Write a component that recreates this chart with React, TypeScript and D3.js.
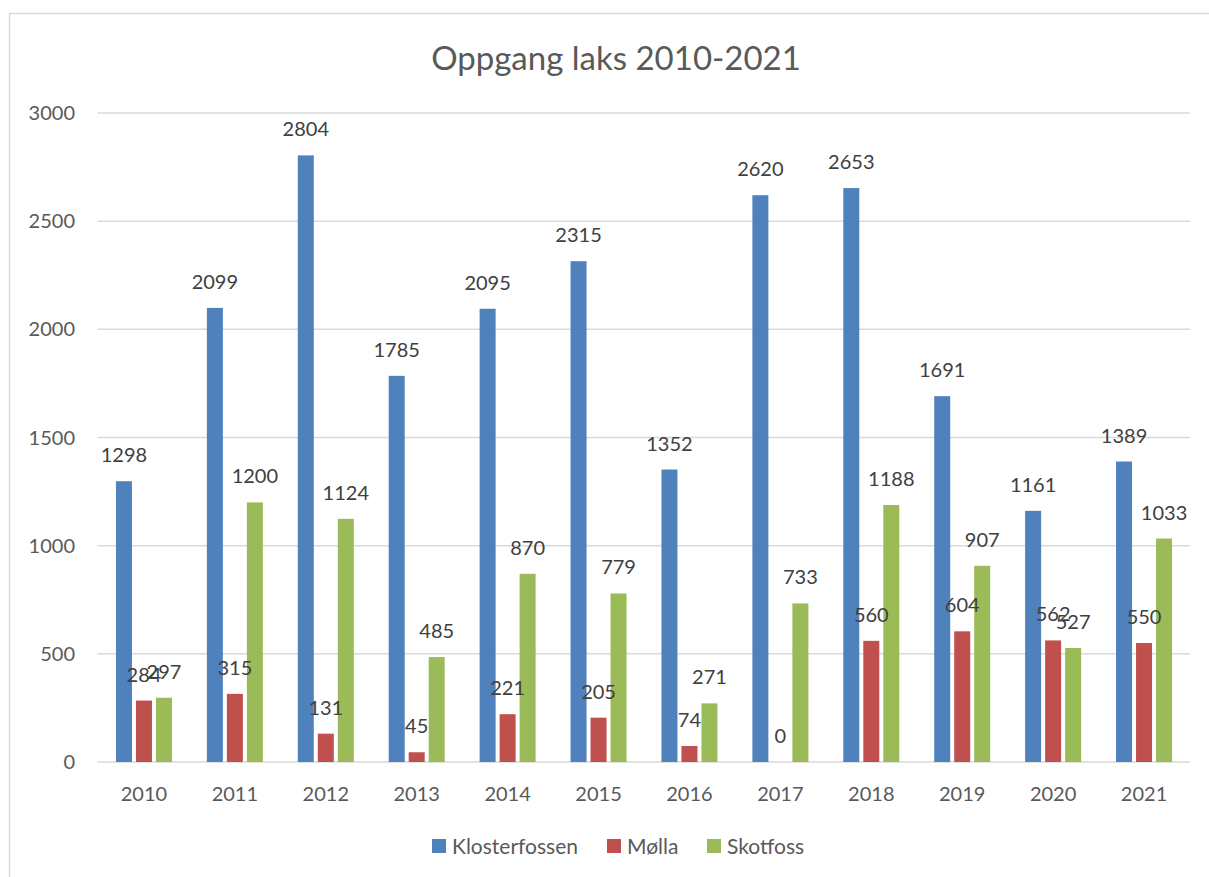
import { useEffect, useRef } from "react"
import * as d3 from "d3"

const years = ["2010", "2011", "2012", "2013", "2014", "2015", "2016", "2017", "2018", "2019", "2020", "2021"]
const seriesNames = ["Klosterfossen", "Mølla", "Skotfoss"]
const klosterfossen = [1298, 2099, 2804, 1785, 2095, 2315, 1352, 2620, 2653, 1691, 1161, 1389]
const molla = [284, 315, 131, 45, 221, 205, 74, 0, 560, 604, 562, 550]
const skotfoss = [297, 1200, 1124, 485, 870, 779, 271, 733, 1188, 907, 527, 1033]
const yTicks = [0, 500, 1000, 1500, 2000, 2500, 3000]
const colors = ["#4F81BD", "#C0504D", "#9BBB59"]

const W = 1209
const H = 877
const FONT = "Lato, 'Open Sans', sans-serif"

export default function App() {
  const svgRef = useRef<SVGSVGElement>(null)

  useEffect(() => {
    if (!svgRef.current) return
    const svg = d3.select(svgRef.current)
    svg.selectAll("*").remove()

    const values = [klosterfossen, molla, skotfoss]

    // chart frame (cropped on the right and bottom)
    svg.append("rect")
      .attr("x", 9.5).attr("y", 13.5)
      .attr("width", W + 20).attr("height", H + 20)
      .attr("fill", "white").attr("stroke", "#D9D9D9").attr("stroke-width", 1.5)

    svg.append("text")
      .attr("x", 616).attr("y", 70)
      .attr("text-anchor", "middle")
      .attr("font-family", FONT).attr("font-size", 33)
      .attr("fill", "#595959")
      .text("Oppgang laks 2010-2021")

    const x = d3.scaleBand().domain(years).range([97.5, 1188.5]).padding(0)
    const xs = d3.scaleBand().domain(seriesNames).range([-28, 28]).paddingInner(0.2).paddingOuter(0)
    const y = d3.scaleLinear().domain([0, 3000]).range([762, 113])

    // gridlines
    svg.append("g")
      .selectAll("line")
      .data(yTicks)
      .enter()
      .append("line")
      .attr("x1", 97.5).attr("x2", 1190)
      .attr("y1", (d) => y(d)).attr("y2", (d) => y(d))
      .attr("stroke", "#D9D9D9").attr("stroke-width", 1.5)

    // y tick labels
    svg.append("g")
      .selectAll("text")
      .data(yTicks)
      .enter()
      .append("text")
      .attr("x", 75).attr("y", (d) => y(d) + 7)
      .attr("text-anchor", "end")
      .attr("font-family", FONT).attr("font-size", 20)
      .attr("fill", "#595959")
      .text((d) => d)

    // x tick labels
    svg.append("g")
      .selectAll("text")
      .data(years)
      .enter()
      .append("text")
      .attr("x", (d) => (x(d) || 0) + x.bandwidth() / 2 + 1)
      .attr("y", 801)
      .attr("text-anchor", "middle")
      .attr("font-family", FONT).attr("font-size", 20)
      .attr("fill", "#595959")
      .text((d) => d)

    const rows = seriesNames.map((name, si) =>
      years.map((yr, i) => ({ name, si, yr, v: values[si][i] })),
    )
    const cx = (d: { yr: string; name: string }) =>
      (x(d.yr) || 0) + x.bandwidth() / 2 + 1 + (xs(d.name) || 0)

    // bars first
    const barG = svg.append("g")
    rows.forEach((data) => {
      barG.append("g")
        .selectAll("rect")
        .data(data)
        .enter()
        .append("rect")
        .attr("x", (d) => cx(d))
        .attr("y", (d) => y(d.v))
        .attr("width", xs.bandwidth())
        .attr("height", (d) => y(0) - y(d.v))
        .attr("fill", (d) => colors[d.si])
    })

    // then the value labels on top
    const labelG = svg.append("g")
    rows.forEach((data) => {
      labelG.append("g")
        .selectAll("text")
        .data(data)
        .enter()
        .append("text")
        .attr("x", (d) => cx(d) + xs.bandwidth() / 2)
        .attr("y", (d) => y(d.v) - 19)
        .attr("text-anchor", "middle")
        .attr("font-family", FONT).attr("font-size", 20)
        .attr("fill", "#404040")
        .text((d) => d.v)
    })

    // legend
    const legendX = [432, 607, 707]
    const lg = svg.append("g")
    seriesNames.forEach((name, i) => {
      lg.append("rect")
        .attr("x", legendX[i]).attr("y", 839)
        .attr("width", 14).attr("height", 14)
        .attr("fill", colors[i])
      lg.append("text")
        .attr("x", legendX[i] + 20).attr("y", 854)
        .attr("font-family", FONT).attr("font-size", 21)
        .attr("fill", "#595959")
        .text(name)
    })
  }, [])

  return (
    <svg
      ref={svgRef}
      width={W}
      height={H}
      style={{ position: "absolute", left: 0, top: 0, background: "white" }}
    />
  )
}
